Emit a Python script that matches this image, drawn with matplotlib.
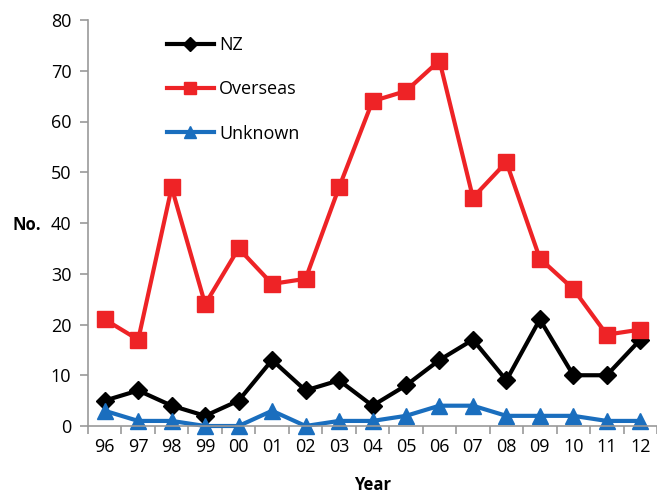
import numpy as np
import matplotlib.pyplot as plt
from matplotlib.ticker import FixedLocator

years = ['96', '97', '98', '99', '00', '01', '02', '03', '04', '05', '06',
         '07', '08', '09', '10', '11', '12']
nz = [5, 7, 4, 2, 5, 13, 7, 9, 4, 8, 13, 17, 9, 21, 10, 10, 17]
overseas = [21, 17, 47, 24, 35, 28, 29, 47, 64, 66, 72, 45, 52, 33, 27, 18, 19]
unknown = [3, 1, 1, 0, 0, 3, 0, 1, 1, 2, 4, 4, 2, 2, 2, 1, 1]

plt.rcParams['font.family'] = ['Open Sans', 'DejaVu Sans']

fig = plt.figure(figsize=(6.57, 4.93), dpi=100)
ax = fig.add_axes([88 / 657, 67 / 493, 1 - 88 / 657, (426 - 20) / 493])

x = np.arange(len(years))
ax.plot(x, nz, color='black', lw=3, marker='D', ms=9, label='NZ', clip_on=False)
ax.plot(x, overseas, color='#EE2326', lw=3, marker='s', ms=11, label='Overseas', clip_on=False)
ax.plot(x, unknown, color='#1A6EBE', lw=3, marker='^', ms=11, label='Unknown', clip_on=False)

ax.set_xlim(-0.5, len(years) - 0.5)
ax.set_ylim(0, 80)
ax.set_yticks(range(0, 81, 10))
ax.set_xticks(x)
ax.set_xticklabels(years)
ax.xaxis.set_minor_locator(FixedLocator(np.arange(-0.5, len(years), 1)))
ax.tick_params(axis='x', which='major', length=0, pad=9, labelsize=13)
ax.tick_params(axis='x', which='minor', length=6, color='#999999', width=1.2)
ax.tick_params(axis='y', length=6, color='#999999', width=1.2, labelsize=13, pad=6)

for s in ['top', 'right']:
    ax.spines[s].set_visible(False)
for s in ['left', 'bottom']:
    ax.spines[s].set_color('#999999')
    ax.spines[s].set_linewidth(1.2)

ax.set_xlabel('Year', fontsize=12, fontweight='bold', labelpad=14)
fig.text(12 / 657, 1 - 225 / 493, 'No.', fontsize=12, fontweight='bold', va='center')

leg = ax.legend(loc='upper left', bbox_to_anchor=(0.11, 1.0), frameon=False,
                fontsize=13, handlelength=2.6, labelspacing=1.45, handletextpad=0.3,
                markerscale=0.8)

fig.savefig('out.png', dpi=100)
